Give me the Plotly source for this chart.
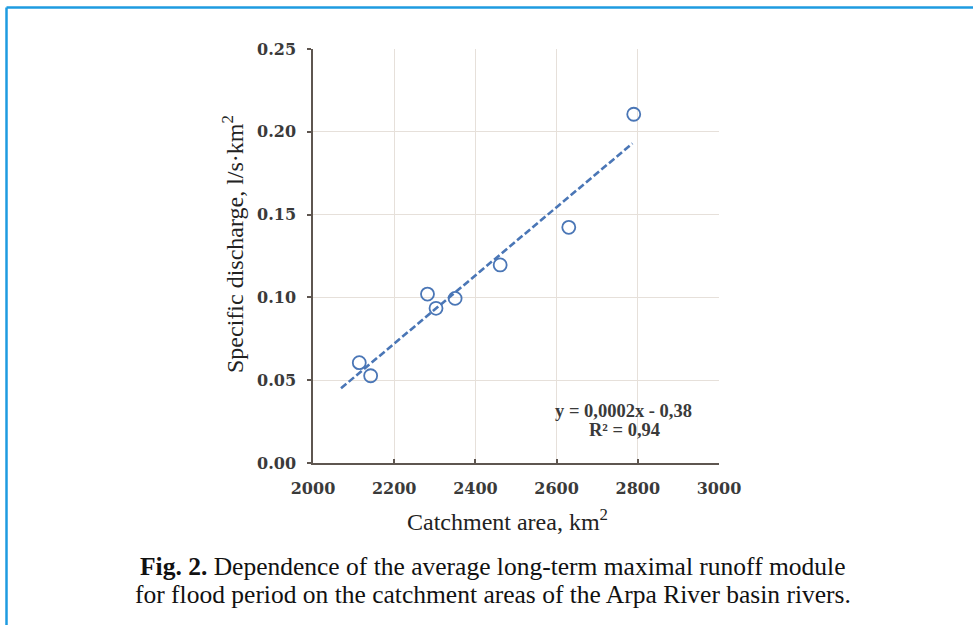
import plotly.graph_objects as go

# Data
area_km2 = [2114, 2142, 2282, 2303, 2350, 2461, 2630, 2790]
discharge = [0.0606, 0.0527, 0.102, 0.0934, 0.0994, 0.1196, 0.1423, 0.2106]
trend_x = [2069, 2787]
trend_y = [0.0451, 0.193]
x_ticks = [2000, 2200, 2400, 2600, 2800, 3000]
y_ticks = [0.00, 0.05, 0.10, 0.15, 0.20, 0.25]
y_tick_labels = ["0.00", "0.05", "0.10", "0.15", "0.20", "0.25"]

W, H = 973, 625
L, R, T, B = 313, 719, 49, 463  # plot area in pixels
pw, ph = R - L, B - T

def px(x):
    return (x - L) / pw

def py(y):
    return (B - y) / ph

blue = "#4a76b6"
serif = "Liberation Serif, Times New Roman, serif"
tickserif = "DejaVu Serif, serif"

fig = go.Figure()
fig.add_trace(go.Scatter(x=trend_x, y=trend_y, mode="lines",
                         line=dict(color=blue, width=2.6, dash="7px,3px"),
                         showlegend=False, hoverinfo="skip"))
fig.add_trace(go.Scatter(x=area_km2, y=discharge, mode="markers",
                         marker=dict(symbol="circle-open", size=13, color=blue,
                                     line=dict(width=1.8, color=blue)),
                         showlegend=False))

axis_common = dict(showline=True, linecolor="#5e5650", linewidth=1.5,
                   showgrid=True, gridcolor="#e6e0da", gridwidth=1,
                   zeroline=False, mirror=False,
                   tickfont=dict(family=tickserif, size=16, color="#3a3a3a",
                                 weight="bold"),
                   tickcolor="#5e5650", ticklen=4, tickwidth=1.5)

fig.update_xaxes(range=[2000, 3000], tickvals=x_ticks, ticks="inside",
                 ticklabelstandoff=10, **axis_common)
fig.update_yaxes(range=[0, 0.25], tickvals=y_ticks, ticktext=y_tick_labels,
                 ticks="outside", ticklabelstandoff=8, **axis_common)

def note(text, x, y, size, color, angle=0):
    return dict(text=text, x=px(x), y=py(y), xref="paper", yref="paper",
                xanchor="center", yanchor="middle", showarrow=False,
                textangle=angle, font=dict(family=serif, size=size, color=color))

ann = [
    note("<b>y = 0,0002x - 0,38</b>", 623, 411, 18.5, "#3a3a3a"),
    note("<b>R² = 0,94</b>", 624, 430, 18.5, "#3a3a3a"),
    note("Specific discharge, l/s·km<sup>2</sup>", 233, 244, 24, "#222", -90),
    note("Catchment area, km<sup>2</sup>", 507, 520, 24, "#222"),
    note("<b>Fig. 2.</b> Dependence of the average long-term maximal runoff module",
         493, 566, 25.5, "#111"),
    note("for flood period on the catchment areas of the Arpa River basin rivers.",
         493, 594, 25.5, "#111"),
]

shapes = [
    dict(type="line", xref="paper", yref="paper", x0=px(6.5), x1=px(975),
         y0=py(7.5), y1=py(7.5), line=dict(color="#1e9be0", width=2.5)),
    dict(type="line", xref="paper", yref="paper", x0=px(6.5), x1=px(6.5),
         y0=py(7.5), y1=py(627), line=dict(color="#1e9be0", width=2.5)),
]

fig.update_layout(width=W, height=H, margin=dict(l=L, r=W - R, t=T, b=H - B),
                  paper_bgcolor="white", plot_bgcolor="white",
                  annotations=ann, shapes=shapes)

fig.write_html("out.html", config={"displayModeBar": False},
               post_script="document.body.style.margin='0';document.body.style.overflow='hidden';")
